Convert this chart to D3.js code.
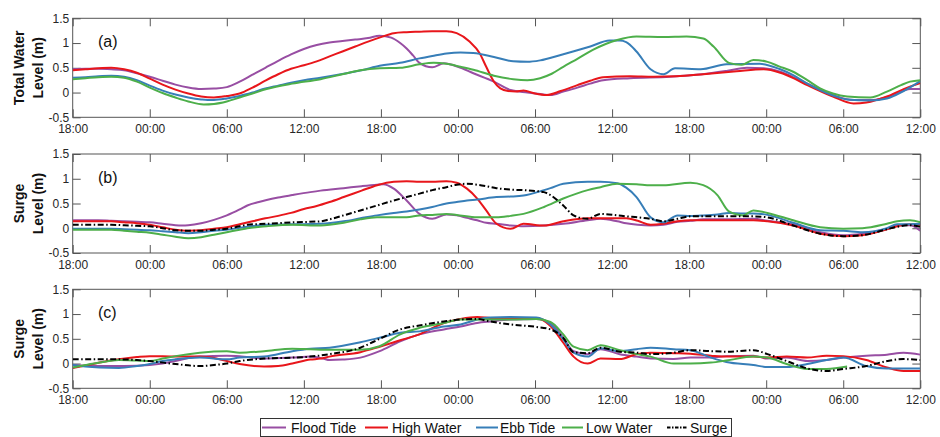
<!DOCTYPE html>
<html>
<head>
<meta charset="utf-8">
<script src="https://cdn.jsdelivr.net/npm/d3@7/dist/d3.min.js"></script>
<style>
  html, body { margin: 0; padding: 0; background: #fff; }
  svg { display: block; }
  text { font-family: "Liberation Sans", Arial, Helvetica, sans-serif; }
</style>
</head>
<body>
<svg id="chart" width="940" height="437"></svg>
<script>
// ---------------- DATA ----------------
// Time axis: hours since 18:00 on day 1 (66 h span)
const tickHours  = [0, 6, 12, 18, 24, 30, 36, 42, 48, 54, 60, 66];
const tickLabels = ["18:00","00:00","06:00","12:00","18:00","00:00","06:00","12:00","18:00","00:00","06:00","12:00"];
const yTicks = [-0.5, 0, 0.5, 1, 1.5];
const seriesNames = ["Flood Tide", "High Water", "Ebb Tide", "Low Water", "Surge"];
const panelLetters = ["(a)", "(b)", "(c)"];
const panelTitles = [["Total Water", "Level (m)"], ["Surge", "Level (m)"], ["Surge", "Level (m)"]];

// Panel (a): total water level [hour, metres]
const floodA = [[0,0.47],[1,0.48],[2,0.48],[3,0.47],[4,0.45],[5,0.39],[6,0.32],[7,0.24],[8,0.16],[9,0.1],[10,0.07],[11,0.08],[12,0.11],[13,0.22],[14,0.36],[15,0.5],[16,0.64],[17,0.77],[18,0.88],[19,0.96],[20,1.01],[21,1.04],[22,1.07],[23,1.1],[23.9,1.15],[24.8,1.11],[25.5,1.0],[26,0.89],[26.5,0.75],[27,0.6],[28,0.51],[28.9,0.59],[30,0.52],[31.2,0.39],[32.8,0.22],[34.1,0.05],[35.4,0.0],[36.4,-0.03],[37.2,-0.05],[38.2,0.02],[39.3,0.1],[40.3,0.18],[41.3,0.25],[43.4,0.29],[46.5,0.32],[49,0.37],[51,0.44],[52.5,0.5],[53.8,0.49],[55.1,0.42],[56.2,0.3],[57.2,0.18],[58.2,0.06],[59.2,-0.05],[60.8,-0.15],[62.3,-0.15],[63.9,-0.05],[65.2,0.07],[66,0.07]];
const highA  = [[0,0.45],[1,0.47],[2,0.49],[3,0.5],[4,0.47],[5,0.4],[6,0.28],[7,0.16],[8,0.06],[9,-0.02],[10,-0.08],[11,-0.1],[12,-0.07],[13,-0.02],[14,0.1],[15,0.24],[16,0.37],[17,0.48],[18,0.55],[19,0.63],[20,0.73],[21,0.83],[22,0.93],[23,1.03],[24,1.12],[25,1.2],[26,1.22],[27,1.23],[28,1.24],[29.1,1.24],[29.9,1.2],[30.9,1.03],[31.7,0.79],[32.2,0.52],[32.8,0.22],[33.3,0.085],[33.9,0.03],[34.5,0.02],[35.1,0.04],[36,-0.02],[36.9,-0.05],[38,0.03],[39.3,0.15],[40.3,0.24],[41.3,0.31],[43.4,0.33],[45.2,0.32],[47,0.33],[49.1,0.37],[51.7,0.43],[53.8,0.47],[55.1,0.4],[56.2,0.28],[57.2,0.15],[58.2,0.03],[59.2,-0.08],[60.8,-0.22],[61.8,-0.2],[63.4,-0.08],[64.7,0.07],[66,0.19]];
const ebbA   = [[0,0.3],[1,0.31],[2,0.33],[3,0.34],[4,0.32],[5,0.25],[6,0.14],[7,0.04],[8,-0.04],[9,-0.1],[10,-0.14],[10.5,-0.15],[11,-0.15],[12,-0.12],[13,-0.07],[14,0.0],[15,0.08],[16,0.14],[17,0.2],[18,0.25],[19.3,0.3],[21.1,0.38],[22.5,0.45],[23.9,0.54],[25.5,0.6],[27,0.69],[28,0.74],[29.1,0.79],[30.2,0.81],[31.2,0.8],[32.8,0.72],[34.3,0.63],[35.4,0.62],[36.4,0.65],[38,0.76],[40.3,0.93],[41.8,1.05],[42.6,1.05],[43.1,1.02],[43.9,0.83],[45,0.47],[46,0.37],[46.9,0.49],[48.9,0.47],[50.9,0.57],[53.5,0.58],[55,0.48],[56.1,0.35],[57.2,0.18],[58.2,0.05],[59.2,-0.06],[60.3,-0.14],[62.1,-0.16],[63.4,-0.12],[64.7,0.03],[66,0.23]];
const lowA   = [[0,0.27],[1,0.29],[2,0.31],[3,0.32],[4,0.3],[5,0.22],[6,0.1],[7,-0.01],[8,-0.1],[9,-0.18],[10.2,-0.24],[11,-0.23],[12,-0.18],[13,-0.1],[14,-0.02],[15.1,0.07],[17.1,0.18],[19.3,0.27],[21,0.37],[22.4,0.45],[23.9,0.49],[25.5,0.5],[27,0.57],[28.1,0.6],[29.1,0.58],[30.2,0.52],[31.2,0.46],[32.8,0.34],[34.3,0.27],[35.4,0.25],[36.4,0.29],[37.3,0.38],[38.2,0.52],[39.3,0.68],[40.5,0.86],[41.5,0.98],[42.4,1.06],[43.9,1.13],[46,1.12],[47.8,1.13],[49.1,1.09],[49.9,0.93],[51.1,0.6],[52.1,0.56],[53,0.66],[54.1,0.62],[55,0.53],[56.1,0.42],[57.2,0.25],[58.2,0.085],[59.2,-0.02],[60.3,-0.08],[62.1,-0.1],[63.4,0.02],[64.5,0.15],[65.2,0.22],[66,0.25]];

// Panel (b): surge level [hour, metres]
const floodB = [[0,0.16],[1,0.16],[2,0.16],[3,0.15],[4,0.14],[5,0.13],[6,0.12],[7,0.09],[8,0.06],[8.5,0.055],[9,0.06],[10,0.1],[11,0.17],[12,0.26],[13,0.38],[13.6,0.46],[14.5,0.53],[15.1,0.57],[16,0.62],[17.1,0.67],[18.5,0.73],[19.3,0.76],[21.1,0.81],[22.5,0.85],[23.7,0.88],[24.2,0.89],[25,0.8],[26,0.56],[27,0.29],[28,0.19],[29.1,0.28],[29.9,0.26],[30.7,0.21],[31.5,0.16],[32.2,0.11],[33,0.09],[34.1,0.055],[35.1,0.04],[36.7,0.055],[38.2,0.09],[40.1,0.16],[41.1,0.19],[42.4,0.14],[43.1,0.1],[44,0.07],[45,0.055],[46,0.07],[47.1,0.13],[48.1,0.15],[49.1,0.18],[51,0.18],[53,0.19],[54.1,0.15],[56.1,0.08],[58.2,-0.08],[60,-0.14],[61.5,-0.11],[63.4,-0.01],[64.2,0.06],[65.2,0.06],[66,-0.05]];
const highB  = [[0,0.14],[1,0.14],[2,0.14],[3,0.14],[4,0.12],[5,0.1],[6,0.07],[7,0.02],[8,-0.03],[9,-0.05],[10,-0.04],[11,-0.01],[12,0.02],[13,0.08],[14,0.14],[15,0.2],[16,0.25],[17,0.31],[18,0.39],[19,0.45],[20,0.53],[21.1,0.63],[22.5,0.76],[23.7,0.87],[25,0.94],[26,0.95],[27,0.94],[28,0.94],[29.1,0.95],[29.9,0.92],[30.7,0.8],[31.5,0.6],[32.2,0.36],[33,0.09],[34.1,-0.01],[35.1,0.09],[36.7,0.055],[38.2,0.14],[40.1,0.2],[41.1,0.2],[42.4,0.2],[43.1,0.2],[44,0.15],[45,0.07],[46,0.09],[47.1,0.14],[48.1,0.16],[51.1,0.16],[53,0.16],[54.1,0.14],[56.1,0.055],[58.2,-0.11],[60,-0.16],[61.5,-0.14],[63.4,-0.02],[64.2,0.04],[65.2,0.08],[66,0.07]];
const ebbB   = [[0,-0.01],[2,-0.01],[3,-0.01],[4,-0.02],[5,-0.03],[6,-0.04],[7,-0.06],[8,-0.08],[9,-0.1],[10,-0.08],[11,-0.05],[12,-0.03],[13.6,0.03],[15.1,0.07],[17.1,0.08],[19.3,0.09],[21.1,0.14],[22.4,0.2],[23.7,0.26],[25,0.31],[26,0.34],[27,0.38],[28,0.43],[29.1,0.5],[29.9,0.53],[30.7,0.56],[31.5,0.58],[33,0.63],[34.1,0.64],[35.1,0.66],[36.7,0.77],[37.2,0.81],[38.2,0.9],[40.1,0.94],[41.1,0.94],[42.4,0.91],[43.1,0.82],[43.9,0.63],[45,0.22],[46,0.12],[47.1,0.26],[48.1,0.25],[49.1,0.26],[50.2,0.28],[51.1,0.31],[52.2,0.3],[53,0.3],[54.1,0.27],[56.1,0.11],[58.2,-0.04],[60,-0.05],[61.5,-0.08],[63.4,0.0],[64.2,0.08],[65.2,0.08],[66,0.09]];
const lowB   = [[0,-0.03],[2,-0.03],[3,-0.03],[4,-0.05],[5,-0.07],[6,-0.09],[7,-0.13],[8,-0.17],[9,-0.2],[10,-0.18],[11,-0.13],[12,-0.08],[13,-0.03],[13.6,0.0],[15.1,0.04],[17.1,0.07],[19.3,0.055],[21.1,0.11],[22.4,0.18],[23.7,0.22],[26,0.22],[27,0.26],[28,0.27],[29.1,0.29],[29.9,0.27],[31.5,0.22],[33,0.22],[34.1,0.25],[35.1,0.29],[36.7,0.43],[38.2,0.6],[40.1,0.77],[41.1,0.83],[42.4,0.9],[43.9,0.89],[45,0.87],[46,0.87],[48.1,0.92],[49.1,0.87],[50.2,0.67],[51.1,0.34],[52.2,0.26],[53,0.36],[54.1,0.31],[56.1,0.16],[58.2,0.02],[60,-0.01],[61.5,0.0],[63.4,0.09],[64.2,0.14],[65.2,0.16],[66,0.12]];
const surgeB = [[0,0.07],[2,0.07],[3,0.07],[4,0.06],[5,0.05],[6,0.04],[7,0.0],[8,-0.04],[9,-0.05],[10,-0.05],[11,-0.03],[12,-0.01],[13,0.04],[13.6,0.07],[15.1,0.09],[17.1,0.12],[19.3,0.14],[20,0.18],[21.1,0.26],[22.4,0.36],[23.7,0.46],[25,0.56],[26,0.63],[27,0.7],[28,0.77],[29.1,0.83],[29.9,0.88],[30.7,0.9],[31.5,0.88],[32.2,0.85],[33,0.81],[34.1,0.78],[35.1,0.77],[36.7,0.73],[37.2,0.67],[38.2,0.46],[39,0.26],[40.1,0.19],[41.1,0.29],[42.4,0.26],[43.1,0.24],[44,0.22],[45,0.19],[46,0.14],[47.1,0.19],[48.1,0.24],[49.1,0.24],[51.1,0.24],[53,0.24],[54.1,0.22],[56.1,0.055],[58.2,-0.11],[60,-0.16],[61.5,-0.14],[63.4,-0.02],[64.2,0.03],[65.2,0.06],[66,0.03]];

// Panel (c): surge level [hour, metres]
const floodC = [[0,-0.03],[2,-0.05],[4,-0.05],[6,-0.03],[7,0.0],[8,0.05],[9,0.11],[9.9,0.14],[12,0.16],[13,0.15],[14.9,0.1],[17.1,0.12],[18.5,0.14],[19.5,0.1],[20,0.07],[21,0.08],[22.4,0.12],[23.9,0.25],[25.5,0.45],[27,0.59],[28.9,0.69],[30.2,0.75],[31.5,0.82],[32.5,0.85],[34.1,0.89],[36.1,0.9],[37.2,0.82],[38.2,0.52],[39,0.25],[40.1,0.19],[41.1,0.29],[42.6,0.19],[43.9,0.14],[45,0.1],[46.8,0.09],[48.1,0.12],[49.7,0.12],[50.9,0.15],[53,0.16],[54.1,0.1],[55.6,0.12],[57.2,0.05],[58.7,0.07],[60,0.12],[61.8,0.16],[63.4,0.18],[64.7,0.22],[66,0.18]];
const highC  = [[0,-0.09],[1,-0.04],[2.1,0.02],[3.6,0.085],[5,0.13],[6,0.15],[8,0.14],[9.9,0.14],[11,0.11],[12,0.05],[13,-0.01],[14.9,-0.06],[16,-0.05],[17.1,0.0],[18.5,0.08],[19.3,0.1],[20,0.14],[22.4,0.23],[23.9,0.34],[25.5,0.47],[27,0.59],[28.9,0.82],[30.2,0.9],[31.5,0.94],[32.5,0.92],[34.1,0.9],[36.1,0.92],[37.2,0.76],[38.2,0.42],[39,0.14],[40.1,0.0],[41.1,0.1],[42.6,0.09],[43.9,0.19],[45,0.22],[46.8,0.21],[48.1,0.2],[49.7,0.16],[50.9,0.14],[53,0.14],[54.1,0.12],[55.6,0.14],[57.2,0.12],[58.7,0.16],[60,0.15],[61.8,0.07],[63.4,-0.08],[64.7,-0.15],[66,-0.15]];
const ebbC   = [[0,-0.03],[1,-0.06],[2.1,-0.08],[3.6,-0.09],[5,-0.05],[6,-0.01],[7,0.05],[8,0.085],[9.9,0.12],[12,0.085],[13,0.12],[14.9,0.14],[17.1,0.25],[18.5,0.3],[20,0.32],[22.4,0.43],[23.9,0.52],[25.5,0.62],[27,0.65],[28.9,0.75],[30.2,0.79],[31.5,0.89],[32.5,0.93],[34.1,0.94],[36.1,0.93],[37.2,0.79],[38.2,0.49],[39,0.22],[40.1,0.14],[41.1,0.31],[42.6,0.25],[43.9,0.29],[45,0.32],[46.8,0.29],[48.1,0.27],[49.7,0.12],[50.9,0.03],[53,-0.03],[54.1,-0.07],[55.6,-0.07],[57.2,-0.01],[58.7,0.07],[60,0.12],[61.8,-0.05],[63.4,-0.1],[66,-0.1]];
const lowC   = [[0,-0.08],[1,-0.03],[2.1,0.02],[3.6,0.07],[5,0.06],[6,0.05],[7,0.1],[8,0.15],[9.9,0.22],[12,0.25],[13,0.22],[14.9,0.25],[17.1,0.3],[18.5,0.29],[20,0.28],[22.4,0.28],[23.9,0.35],[25.5,0.59],[27,0.72],[28.9,0.82],[30.2,0.89],[31.5,0.89],[34.1,0.89],[36.1,0.9],[37.2,0.84],[38.2,0.59],[39,0.34],[40.1,0.27],[41.1,0.37],[42.6,0.27],[43.9,0.19],[45,0.14],[46.8,0.0],[48.1,0.0],[49.7,0.02],[50.9,0.06],[53,0.14],[54.1,0.12],[55.6,-0.01],[57.2,-0.11],[58.7,-0.11],[60.3,-0.06]];
const surgeC = [[0,0.085],[2,0.085],[3.6,0.085],[5,0.07],[6,0.05],[8,-0.01],[9.9,-0.05],[11,-0.03],[12,0.0],[13,0.05],[14.9,0.1],[17.1,0.12],[18.5,0.14],[20,0.19],[22.4,0.32],[23.9,0.5],[25.5,0.69],[27,0.77],[28.9,0.85],[30.2,0.89],[31.5,0.9],[32.5,0.85],[34.1,0.79],[36.1,0.74],[37.2,0.69],[38.2,0.52],[39,0.23],[40.1,0.21],[41.1,0.32],[42.6,0.24],[43.9,0.22],[45,0.19],[46.8,0.22],[48.1,0.27],[49.7,0.25],[50.9,0.24],[53,0.27],[54.1,0.19],[55.6,0.05],[57.2,-0.1],[58.7,-0.15],[60,-0.11],[61.8,-0.05],[63.4,0.05],[64.7,0.09],[66,0.07]];

// ---------------- STYLE / LAYOUT ----------------
const colors = ["#984EA3", "#E8161B", "#377EB8", "#4DAF4A", "#000000"];
const panels = [
  { series: [floodA, highA, ebbA, lowA, null] },
  { series: [floodB, highB, ebbB, lowB, surgeB] },
  { series: [floodC, highC, ebbC, lowC, surgeC] }
];
const plotLeft = 72.7, plotRight = 920.3;
const panelTops = [18.3, 154, 289.3];
const panelH = 99;
const axisColor = "#555";
const textColor = "#262626";

const svg = d3.select("#chart");
const x = d3.scaleLinear().domain([0, 66]).range([plotLeft, plotRight]);

panels.forEach((p, i) => {
  const top = panelTops[i], bottom = top + panelH;
  const y = d3.scaleLinear().domain([-0.5, 1.5]).range([bottom, top]);
  const g = svg.append("g");

  const clipId = "clip" + i;
  svg.append("clipPath").attr("id", clipId).append("rect")
    .attr("x", plotLeft).attr("y", top).attr("width", plotRight - plotLeft).attr("height", panelH);

  const xb = d3.axisBottom(x).tickValues(tickHours).tickFormat((d, k) => tickLabels[k])
    .tickSizeInner(-8).tickSizeOuter(0).tickPadding(7.5);
  const gxb = g.append("g").attr("transform", `translate(0,${bottom})`).call(xb);
  const xt = d3.axisTop(x).tickValues(tickHours).tickFormat("").tickSizeInner(-8).tickSizeOuter(0);
  const gxt = g.append("g").attr("transform", `translate(0,${top})`).call(xt);
  const yl = d3.axisLeft(y).tickValues(yTicks).tickFormat(d => String(d))
    .tickSizeInner(-8).tickSizeOuter(0).tickPadding(3.5);
  const gyl = g.append("g").attr("transform", `translate(${plotLeft},0)`).call(yl);
  const yr = d3.axisRight(y).tickValues(yTicks).tickFormat("").tickSizeInner(-8).tickSizeOuter(0);
  const gyr = g.append("g").attr("transform", `translate(${plotRight},0)`).call(yr);

  [gxb, gxt, gyl, gyr].forEach(a => {
    a.select(".domain").remove();
    a.selectAll(".tick line").attr("stroke", axisColor).attr("stroke-width", 1);
    a.selectAll(".tick text").attr("fill", textColor)
      .style("font-family", '"Liberation Sans", Arial, sans-serif').style("font-size", "12px");
  });

  g.append("rect").attr("x", plotLeft).attr("y", top)
    .attr("width", plotRight - plotLeft).attr("height", panelH)
    .attr("fill", "none").attr("stroke", axisColor).attr("stroke-width", 1);

  const line = d3.line().x(d => x(d[0])).y(d => y(d[1])).curve(d3.curveMonotoneX);
  const lg = g.append("g").attr("clip-path", `url(#${clipId})`);
  p.series.forEach((s, k) => {
    if (!s) return;
    lg.append("path").datum(s).attr("d", line)
      .attr("fill", "none").attr("stroke", colors[k])
      .attr("stroke-width", 2)
      .attr("stroke-linejoin", "round")
      .attr("stroke-dasharray", k === 4 ? "6,2.5,1.5,2.5" : null);
  });

  g.append("text").attr("x", 98).attr("y", top + 29)
    .attr("fill", "#111").style("font-size", "16px").text(panelLetters[i]);

  const cy = (top + bottom) / 2;
  const t = g.append("text").attr("transform", `translate(23.5,${cy}) rotate(-90)`)
    .attr("text-anchor", "middle").attr("fill", "#111")
    .style("font-size", "14px").style("font-weight", "bold");
  t.append("tspan").attr("x", 0).attr("dy", 0).text(panelTitles[i][0]);
  t.append("tspan").attr("x", 0).attr("dy", 19).text(panelTitles[i][1]);
});

// legend
const lgd = svg.append("g");
lgd.append("rect").attr("x", 260.5).attr("y", 418.5).attr("width", 471).attr("height", 18)
  .attr("fill", "#fff").attr("stroke", "#333").attr("stroke-width", 1);
const lineStarts = [262, 365, 476, 562, 667];
const lineEnds = [286, 388, 498, 583, 688];
const textStarts = [291, 392, 500, 586, 690];
seriesNames.forEach((name, k) => {
  lgd.append("line").attr("x1", lineStarts[k]).attr("x2", lineEnds[k])
    .attr("y1", 427.5).attr("y2", 427.5)
    .attr("stroke", colors[k]).attr("stroke-width", 2)
    .attr("stroke-dasharray", k === 4 ? "3.5,1.5,1.5,1.5" : null);
  lgd.append("text").attr("x", textStarts[k]).attr("y", 432.5)
    .attr("fill", "#111").style("font-size", "14px").text(name);
});
</script>
</body>
</html>
